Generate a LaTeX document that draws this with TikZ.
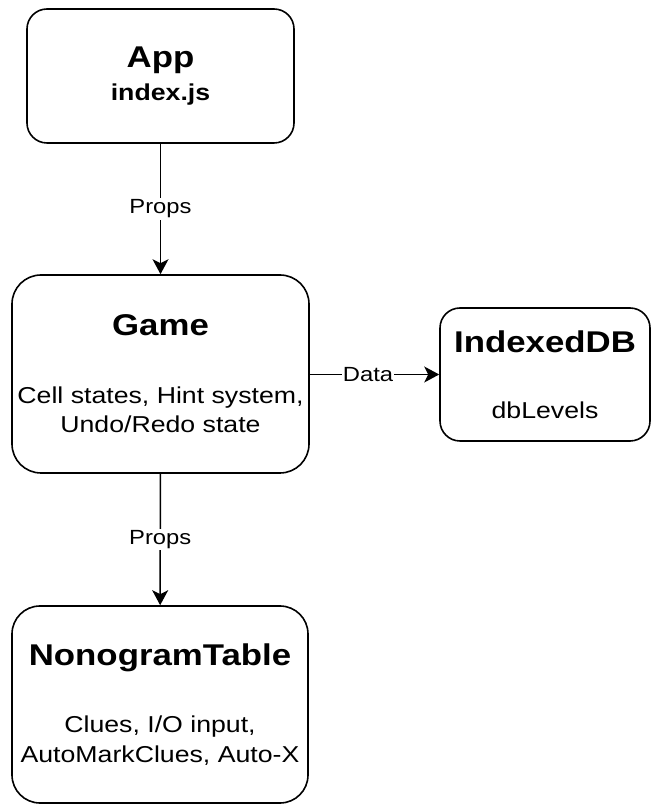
\documentclass[tikz,border=0pt]{standalone}
\usepackage{fontspec}
\setmainfont[FakeStretch=1.16]{Liberation Sans}
\usetikzlibrary{arrows.meta}

\newcommand{\boxtitle}[1]{{\fontsize{30}{33}\selectfont\bfseries #1}}

\begin{document}
\begin{tikzpicture}[x=1pt, y=1pt,
		comp/.style={draw, line width=1.6pt, align=center, inner sep=0pt,
			font=\fontsize{23}{29.5}\selectfont},
		flow/.style={draw, line width=1.5pt, -{Stealth[length=15pt, width=16pt, inset=4pt]}},
		lbl/.style={fill=white, inner sep=1.5pt, font=\fontsize{20.5}{24}\selectfont}]
		\useasboundingbox (0,0) rectangle (651,806);

		\node[comp, minimum width=267pt, minimum height=134pt, rounded corners=20pt] (app) at (160.5, 730) {\boxtitle{App}\\[3pt] {\bfseries index.js}};
		\node[comp, minimum width=297pt, minimum height=198pt, rounded corners=29pt] (game) at (160.5, 432) {\boxtitle{Game}\\[38pt] Cell states, Hint system,\\ Undo/Redo state};
		\node[comp, minimum width=210pt, minimum height=133pt, rounded corners=20pt] (idb) at (545, 431.5) {\boxtitle{IndexedDB}\\[36pt] dbLevels};
		\node[comp, minimum width=296pt, minimum height=197pt, rounded corners=28pt] (table) at (160, 101.5) {\boxtitle{NonogramTable}\\[38pt] Clues, I/O input,\\ AutoMarkClues, Auto-X};

		\path (app) edge[flow] node[lbl] {Props} (game)
		(game) edge[flow] node[lbl] {Props} (table)
		(game.east |- idb.west) edge[flow] node[lbl, pos=0.45, inner sep=0.5pt] {Data} (idb.west);
	\end{tikzpicture}
\end{document}
